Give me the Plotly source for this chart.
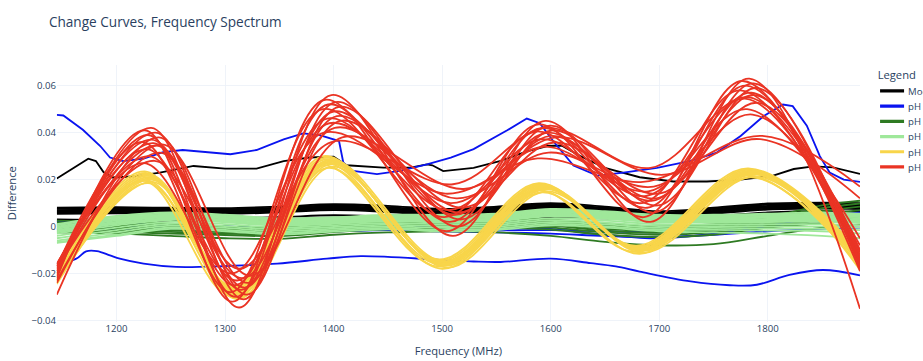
import plotly.graph_objects as go

# ---------------- data ----------------
MODEL_HI_X = [1145, 1163, 1174, 1181, 1188, 1196, 1215, 1240, 1271, 1300, 1329, 1354, 1378, 1400, 1412,
              1446, 1471, 1486, 1491, 1501, 1529, 1554, 1578, 1597, 1610, 1627, 1650, 1682, 1713, 1744,
              1775, 1805, 1824, 1842, 1860, 1885]
MODEL_HI_Y = [0.0205, 0.0258, 0.0289, 0.0279, 0.0232, 0.0209, 0.0213, 0.0230, 0.0258, 0.0247, 0.0247,
              0.0279, 0.0294, 0.0298, 0.0261, 0.0251, 0.0251, 0.0265, 0.0261, 0.0236, 0.0250, 0.0280,
              0.0320, 0.0343, 0.0345, 0.0301, 0.0250, 0.0210, 0.0192, 0.0192, 0.0200, 0.0217, 0.0245,
              0.0256, 0.0252, 0.0224]

BLUE_HI_X = [1145, 1151, 1169, 1185, 1194, 1206, 1225, 1243, 1261, 1305, 1329, 1354, 1372, 1388, 1405,
             1409, 1418, 1440, 1461, 1486, 1508, 1529, 1560, 1578, 1590, 1603, 1621, 1643, 1667, 1698,
             1729, 1753, 1775, 1796, 1814, 1823, 1836, 1848, 1857, 1870, 1885]
BLUE_HI_Y = [0.0476, 0.0473, 0.0412, 0.0343, 0.0294, 0.0279, 0.0289, 0.0317, 0.0326, 0.0308, 0.0326,
             0.0371, 0.0397, 0.0388, 0.0364, 0.0272, 0.0237, 0.0223, 0.0237, 0.0265, 0.0294, 0.0330,
             0.0410, 0.0460, 0.0440, 0.0360, 0.0260, 0.0217, 0.0230, 0.0250, 0.0280, 0.0315, 0.0386,
             0.0470, 0.0520, 0.0513, 0.0430, 0.0300, 0.0230, 0.0200, 0.0190]

BLUE_LO_X = [1145, 1150, 1163, 1172, 1182, 1194, 1203, 1225, 1255, 1302, 1348, 1394, 1425, 1498, 1529,
             1554, 1600, 1637, 1660, 1682, 1729, 1765, 1790, 1820, 1851, 1885]
BLUE_LO_Y = [-0.0155, -0.0154, -0.0137, -0.0106, -0.0105, -0.0123, -0.0137, -0.0158, -0.0172, -0.0168,
             -0.0158, -0.0137, -0.0126, -0.0142, -0.0149, -0.0151, -0.0137, -0.0156, -0.0170, -0.0192,
             -0.0234, -0.0250, -0.0248, -0.0206, -0.0185, -0.0208]

GRID = [1145, 1200, 1250, 1300, 1350, 1400, 1450, 1500, 1550, 1600, 1650, 1700, 1750, 1800, 1850, 1885]

MODEL_BUNDLE = [
    [0.0080, 0.0082, 0.0080, 0.0078, 0.0085, 0.0095, 0.0088, 0.0075, 0.0085, 0.0100, 0.0085, 0.0065, 0.0080, 0.0098, 0.0102, 0.0100],
    [0.0075, 0.0078, 0.0076, 0.0074, 0.0080, 0.0090, 0.0083, 0.0070, 0.0080, 0.0095, 0.0080, 0.0060, 0.0075, 0.0093, 0.0097, 0.0095],
    [0.0070, 0.0073, 0.0071, 0.0070, 0.0076, 0.0086, 0.0078, 0.0065, 0.0076, 0.0090, 0.0076, 0.0056, 0.0071, 0.0088, 0.0092, 0.0090],
    [0.0066, 0.0068, 0.0067, 0.0066, 0.0072, 0.0082, 0.0074, 0.0060, 0.0072, 0.0086, 0.0072, 0.0052, 0.0067, 0.0084, 0.0088, 0.0086],
    [0.0062, 0.0064, 0.0063, 0.0062, 0.0068, 0.0078, 0.0070, 0.0056, 0.0068, 0.0082, 0.0068, 0.0048, 0.0063, 0.0080, 0.0084, 0.0082],
    [0.0058, 0.0060, 0.0059, 0.0058, 0.0064, 0.0074, 0.0066, 0.0052, 0.0064, 0.0078, 0.0064, 0.0044, 0.0059, 0.0076, 0.0080, 0.0078],
    [0.0054, 0.0056, 0.0055, 0.0054, 0.0060, 0.0070, 0.0062, 0.0048, 0.0060, 0.0074, 0.0060, 0.0040, 0.0055, 0.0072, 0.0076, 0.0074],
    [0.0030, 0.0028, 0.0032, 0.0035, 0.0040, 0.0048, 0.0042, 0.0035, 0.0042, 0.0055, 0.0048, 0.0035, 0.0045, 0.0060, 0.0065, 0.0062],
    [0.0024, 0.0020, 0.0025, 0.0028, 0.0030, 0.0038, 0.0030, 0.0022, 0.0030, 0.0040, 0.0035, 0.0025, 0.0035, 0.0050, 0.0055, 0.0055],
]

BLUE_BUNDLE = [
    [0.0020, 0.0015, 0.0005, 0.0000, -0.0005, 0.0005, 0.0010, 0.0005, 0.0000, -0.0010, -0.0035, -0.0050, -0.0030, 0.0000, 0.0030, 0.0050],
    [-0.0010, -0.0012, -0.0015, -0.0020, -0.0025, -0.0020, -0.0015, -0.0020, -0.0025, -0.0030, -0.0040, -0.0045, -0.0035, -0.0020, -0.0010, -0.0005],
    [0.0005, 0.0000, -0.0008, -0.0015, -0.0010, 0.0000, 0.0005, -0.0005, -0.0015, -0.0015, -0.0020, -0.0025, -0.0015, 0.0005, 0.0040, 0.0060],
]

DKGREEN_BUNDLE = [
    [0.0025, 0.0020, 0.0012, 0.0000, -0.0005, 0.0015, 0.0025, 0.0030, 0.0035, 0.0030, 0.0010, 0.0000, 0.0010, 0.0040, 0.0090, 0.0110],
    [0.0018, 0.0013, 0.0005, -0.0006, -0.0011, 0.0009, 0.0019, 0.0024, 0.0029, 0.0024, 0.0004, -0.0006, 0.0004, 0.0034, 0.0078, 0.0098],
    [0.0011, 0.0006, -0.0002, -0.0012, -0.0017, 0.0003, 0.0013, 0.0018, 0.0022, 0.0017, -0.0003, -0.0013, -0.0003, 0.0027, 0.0065, 0.0085],
    [0.0004, -0.0001, -0.0009, -0.0018, -0.0023, -0.0004, 0.0007, 0.0012, 0.0015, 0.0010, -0.0010, -0.0020, -0.0010, 0.0020, 0.0052, 0.0070],
    [-0.0003, -0.0008, -0.0016, -0.0024, -0.0029, -0.0011, 0.0001, 0.0006, 0.0008, 0.0003, -0.0017, -0.0027, -0.0017, 0.0012, 0.0038, 0.0055],
    [-0.0010, -0.0015, -0.0023, -0.0030, -0.0035, -0.0018, -0.0006, -0.0001, 0.0001, -0.0005, -0.0025, -0.0035, -0.0025, 0.0004, 0.0025, 0.0040],
    [-0.0017, -0.0022, -0.0030, -0.0036, -0.0041, -0.0024, -0.0012, -0.0008, -0.0006, -0.0013, -0.0035, -0.0045, -0.0035, -0.0005, 0.0015, 0.0025],
    [-0.0025, -0.0030, -0.0040, -0.0050, -0.0052, -0.0035, -0.0025, -0.0020, -0.0025, -0.0040, -0.0065, -0.0080, -0.0075, -0.0040, -0.0005, 0.0006],
]

LTGREEN_BUNDLE = [
    [0.0010, 0.0045, 0.0060, 0.0050, 0.0035, 0.0040, 0.0050, 0.0050, 0.0055, 0.0075, 0.0065, 0.0050, 0.0050, 0.0055, 0.0060, 0.0055],
    [0.0005, 0.0040, 0.0056, 0.0046, 0.0031, 0.0036, 0.0046, 0.0046, 0.0051, 0.0071, 0.0061, 0.0046, 0.0046, 0.0050, 0.0055, 0.0050],
    [0.0000, 0.0035, 0.0052, 0.0042, 0.0028, 0.0033, 0.0043, 0.0042, 0.0047, 0.0067, 0.0057, 0.0042, 0.0042, 0.0046, 0.0050, 0.0045],
    [-0.0005, 0.0030, 0.0048, 0.0038, 0.0024, 0.0029, 0.0039, 0.0038, 0.0043, 0.0063, 0.0053, 0.0038, 0.0038, 0.0041, 0.0045, 0.0040],
    [-0.0010, 0.0025, 0.0044, 0.0034, 0.0020, 0.0026, 0.0036, 0.0034, 0.0039, 0.0059, 0.0049, 0.0034, 0.0034, 0.0037, 0.0040, 0.0035],
    [-0.0015, 0.0020, 0.0040, 0.0030, 0.0016, 0.0022, 0.0032, 0.0030, 0.0035, 0.0055, 0.0045, 0.0030, 0.0030, 0.0032, 0.0035, 0.0030],
    [-0.0020, 0.0015, 0.0036, 0.0026, 0.0012, 0.0019, 0.0029, 0.0026, 0.0031, 0.0051, 0.0041, 0.0026, 0.0026, 0.0028, 0.0030, 0.0025],
    [-0.0025, 0.0010, 0.0032, 0.0022, 0.0008, 0.0015, 0.0025, 0.0022, 0.0027, 0.0047, 0.0037, 0.0022, 0.0022, 0.0023, 0.0025, 0.0020],
    [-0.0030, 0.0005, 0.0028, 0.0018, 0.0004, 0.0012, 0.0022, 0.0018, 0.0023, 0.0043, 0.0033, 0.0018, 0.0018, 0.0019, 0.0020, 0.0015],
    [-0.0040, -0.0005, 0.0020, 0.0010, -0.0004, 0.0005, 0.0015, 0.0010, 0.0015, 0.0035, 0.0025, 0.0010, 0.0010, 0.0010, 0.0010, 0.0005],
    [-0.0050, -0.0015, 0.0012, 0.0002, -0.0012, -0.0002, 0.0008, 0.0002, 0.0007, 0.0027, 0.0017, 0.0002, 0.0002, 0.0001, 0.0000, -0.0005],
    [-0.0060, -0.0025, 0.0004, -0.0006, -0.0020, -0.0009, 0.0001, -0.0006, -0.0001, 0.0019, 0.0009, -0.0006, -0.0006, -0.0008, -0.0010, -0.0015],
    [-0.0067, -0.0035, -0.0004, -0.0014, -0.0028, -0.0016, -0.0006, -0.0014, -0.0009, 0.0011, 0.0001, -0.0014, -0.0014, -0.0017, -0.0020, -0.0030],
    [-0.0070, -0.0040, -0.0010, -0.0020, -0.0034, -0.0022, -0.0012, -0.0020, -0.0015, 0.0005, -0.0005, -0.0020, -0.0025, -0.0030, -0.0040, -0.0050],
]

# yellow: start, peak, trough, peak, trough, peak, trough, peak, end
YELLOW_X = [
    [1145, 1226, 1307, 1391, 1497, 1589, 1679, 1782, 1885],
    [1145, 1227, 1308, 1392, 1498, 1590, 1680, 1783, 1885],
    [1145, 1228, 1309, 1393, 1499, 1591, 1681, 1784, 1885],
    [1145, 1229, 1310, 1394, 1500, 1592, 1682, 1785, 1885],
    [1145, 1230, 1311, 1395, 1501, 1593, 1683, 1786, 1885],
    [1145, 1231, 1312, 1396, 1502, 1594, 1684, 1787, 1885],
    [1145, 1232, 1313, 1397, 1503, 1595, 1685, 1788, 1885],
    [1145, 1225, 1306, 1390, 1496, 1588, 1678, 1781, 1885],
    [1145, 1233, 1314, 1398, 1504, 1596, 1686, 1789, 1885],
    [1145, 1229, 1310, 1394, 1500, 1592, 1682, 1785, 1885],
    [1145, 1231, 1312, 1396, 1502, 1594, 1684, 1787, 1885],
    [1145, 1227, 1308, 1392, 1498, 1590, 1680, 1783, 1885],
]
YELLOW_Y = [
    [-0.0190, 0.0235, -0.0260, 0.0300, -0.0140, 0.0185, -0.0082, 0.0248, -0.0110],
    [-0.0200, 0.0228, -0.0265, 0.0293, -0.0145, 0.0180, -0.0087, 0.0243, -0.0120],
    [-0.0210, 0.0222, -0.0270, 0.0287, -0.0150, 0.0175, -0.0090, 0.0238, -0.0130],
    [-0.0215, 0.0216, -0.0275, 0.0281, -0.0155, 0.0171, -0.0094, 0.0234, -0.0135],
    [-0.0220, 0.0210, -0.0280, 0.0276, -0.0160, 0.0167, -0.0097, 0.0230, -0.0140],
    [-0.0225, 0.0205, -0.0285, 0.0271, -0.0163, 0.0163, -0.0101, 0.0226, -0.0145],
    [-0.0230, 0.0200, -0.0290, 0.0266, -0.0167, 0.0159, -0.0105, 0.0222, -0.0150],
    [-0.0235, 0.0195, -0.0295, 0.0260, -0.0170, 0.0155, -0.0108, 0.0218, -0.0155],
    [-0.0240, 0.0190, -0.0300, 0.0255, -0.0175, 0.0150, -0.0112, 0.0214, -0.0160],
    [-0.0245, 0.0185, -0.0305, 0.0250, -0.0180, 0.0146, -0.0116, 0.0210, -0.0170],
    [-0.0200, 0.0220, -0.0310, 0.0285, -0.0150, 0.0170, -0.0095, 0.0235, -0.0185],
    [-0.0230, 0.0198, -0.0255, 0.0270, -0.0162, 0.0178, -0.0088, 0.0228, -0.0110],
]

# red: start, peak, trough, peak, trough, peak, trough, peak, end
RED_X = [
    [1145, 1232, 1313, 1398, 1510, 1595, 1692, 1783, 1885],
    [1145, 1226, 1307, 1392, 1504, 1589, 1686, 1777, 1885],
    [1145, 1236, 1317, 1402, 1514, 1599, 1696, 1787, 1885],
    [1145, 1229, 1310, 1395, 1507, 1592, 1689, 1780, 1885],
    [1145, 1239, 1320, 1405, 1517, 1602, 1699, 1790, 1885],
    [1145, 1224, 1305, 1390, 1502, 1587, 1684, 1775, 1885],
    [1145, 1234, 1315, 1400, 1512, 1597, 1694, 1785, 1885],
    [1145, 1237, 1318, 1403, 1515, 1600, 1697, 1788, 1885],
    [1145, 1228, 1309, 1394, 1506, 1591, 1688, 1779, 1885],
    [1145, 1240, 1321, 1406, 1518, 1603, 1700, 1791, 1885],
    [1145, 1230, 1311, 1396, 1508, 1593, 1690, 1781, 1885],
    [1145, 1235, 1316, 1401, 1513, 1598, 1695, 1786, 1885],
    [1145, 1225, 1306, 1391, 1503, 1588, 1685, 1795, 1885],
    [1145, 1242, 1323, 1408, 1520, 1605, 1702, 1793, 1885],
    [1145, 1232, 1313, 1398, 1510, 1595, 1692, 1783, 1885],
]
RED_Y = [
    [-0.0200, 0.0420, -0.0345, 0.0560, -0.0040, 0.0450, 0.0020, 0.0630, -0.0350],
    [-0.0220, 0.0410, -0.0320, 0.0540, -0.0020, 0.0435, 0.0040, 0.0620, -0.0190],
    [-0.0190, 0.0400, -0.0310, 0.0530, 0.0000, 0.0430, 0.0060, 0.0610, -0.0180],
    [-0.0210, 0.0390, -0.0300, 0.0520, 0.0020, 0.0420, 0.0080, 0.0600, -0.0170],
    [-0.0290, 0.0380, -0.0290, 0.0510, 0.0030, 0.0410, 0.0090, 0.0590, -0.0160],
    [-0.0170, 0.0360, -0.0280, 0.0500, 0.0040, 0.0405, 0.0100, 0.0580, -0.0150],
    [-0.0180, 0.0355, -0.0270, 0.0490, 0.0050, 0.0400, 0.0110, 0.0570, -0.0140],
    [-0.0190, 0.0345, -0.0260, 0.0470, 0.0060, 0.0386, 0.0120, 0.0560, -0.0130],
    [-0.0170, 0.0330, -0.0250, 0.0460, 0.0070, 0.0372, 0.0130, 0.0545, -0.0120],
    [-0.0230, 0.0315, -0.0240, 0.0450, 0.0080, 0.0358, 0.0140, 0.0527, -0.0100],
    [-0.0160, 0.0300, -0.0230, 0.0440, 0.0100, 0.0340, 0.0150, 0.0500, -0.0080],
    [-0.0180, 0.0280, -0.0220, 0.0420, 0.0120, 0.0315, 0.0170, 0.0477, -0.0050],
    [-0.0160, 0.0270, -0.0200, 0.0400, 0.0140, 0.0290, 0.0190, 0.0386, 0.0170],
    [-0.0240, 0.0350, -0.0210, 0.0380, 0.0160, 0.0380, 0.0220, 0.0372, 0.0120],
    [-0.0170, 0.0370, -0.0180, 0.0360, 0.0180, 0.0420, 0.0250, 0.0550, -0.0110],
]

GROUP_NAMES = ["Model", "pH 5.0 (buffer)", "pH 4.0 (buffer)", "pH 3.0 (buffer)", "pH 2.0 (buffer)", "pH 1.0 (buffer)"]
GROUP_COLORS = ["black", "#0a14f0", "#2e7a22", "#9fe89a", "#f8d54a", "#ea3424"]

# ---------------- figure ----------------
# The figure is laid out at 1154x451 and shown at 0.8 scale (923x361 on screen).
SCALE = 0.8
LW = 2.3
fig = go.Figure()


def add(x, y, g, shape="linear"):
    fig.add_trace(go.Scatter(
        x=x, y=y, mode="lines", name=GROUP_NAMES[g], legendgroup=GROUP_NAMES[g],
        showlegend=False, line=dict(color=GROUP_COLORS[g], width=LW, shape=shape),
        hoverinfo="skip"))


# Model
add(MODEL_HI_X, MODEL_HI_Y, 0)
for row in MODEL_BUNDLE:
    add(GRID, row, 0, "spline")
# blue
add(BLUE_HI_X, BLUE_HI_Y, 1)
add(BLUE_LO_X, BLUE_LO_Y, 1, "spline")
for row in BLUE_BUNDLE:
    add(GRID, row, 1, "spline")
# dark green
for row in DKGREEN_BUNDLE:
    add(GRID, row, 2, "spline")
# light green
for row in LTGREEN_BUNDLE:
    add(GRID, row, 3, "spline")
# yellow
for xs, ys in zip(YELLOW_X, YELLOW_Y):
    add(xs, ys, 4, "spline")
# red
for xs, ys in zip(RED_X, RED_Y):
    add(xs, ys, 5, "spline")

# legend-only entries (thicker key lines)
for name, color in zip(GROUP_NAMES, GROUP_COLORS):
    fig.add_trace(go.Scatter(x=[None], y=[None], mode="lines", name=name, legendgroup=name,
                             line=dict(color=color, width=4), showlegend=True, hoverinfo="skip"))

fig.update_layout(
    template="plotly_white",
    width=1154, height=451,
    margin=dict(l=71, r=79, t=81, b=49, autoexpand=False),
    title=dict(text="Change Curves, Frequency Spectrum", x=0.053, xanchor="left",
               y=0.939, yanchor="middle"),
    legend=dict(title=dict(text="Legend"), x=1.02, y=1.0, xanchor="left", yanchor="top",
                tracegroupgap=0),
    xaxis=dict(title=dict(text="Frequency (MHz)"), range=[1145, 1885], dtick=100,
               showline=False, zeroline=False),
    yaxis=dict(title=dict(text="Difference"), range=[-0.0405, 0.0689], dtick=0.02),
)

post = (
    "document.documentElement.style.overflow='hidden';"
    "document.body.style.margin='0';document.body.style.overflow='hidden';"
    "var d=document.getElementById('{plot_id}');"
    "d.style.transformOrigin='0 0';d.style.transform='scale(%s)';" % SCALE
)
fig.write_html("out.html", config={"displayModeBar": False}, post_script=post)
